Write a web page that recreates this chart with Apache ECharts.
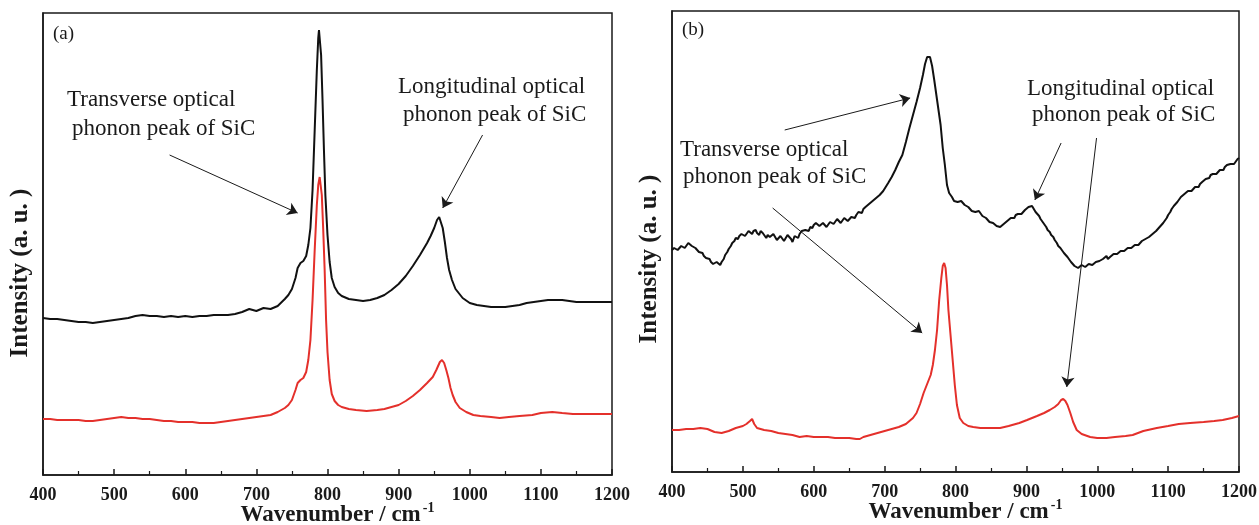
<!DOCTYPE html>
<html>
<head>
<meta charset="utf-8">
<title>Raman SiC</title>
<script src="https://cdn.jsdelivr.net/npm/echarts@6/dist/echarts.min.js"></script>
<style>
  html, body { margin: 0; padding: 0; background: #fff; }
  #main { width: 1259px; height: 525px; }
</style>
</head>
<body>
<div id="main"></div>
<script>
// wavenumber ticks
var xTicks = [400, 500, 600, 700, 800, 900, 1000, 1100, 1200];

// panel (a) spectra  [wavenumber, intensity a.u.]
var aBlack = [
  [400,157],[410,156],[420,156],[430,155],[440,154],[450,153],[460,153],[470,152],[480,153],[490,154],
  [500,155],[510,156],[520,157],[530,159],[540,160],[550,159],[560,159],[570,158],[580,159],[590,158],
  [600,159],[610,158],[620,159],[630,159],[640,160],[650,160],[660,160],[670,161],[680,163],[690,166],
  [700,164],[710,167],[720,166],[730,169],[740,176],[745,180],[750,186],[755,197],[758,207],[762,212],
  [766,214],[770,219],[773,230],[776,247],[779,285],[782,345],[785,405],[787,437],[788,445],[789,443],
  [791,420],[793,375],[795,325],[797,280],[800,240],[803,213],[806,197],[810,188],[815,182],[820,179],
  [830,176],[840,175],[850,174],[860,175],[870,177],[880,180],[890,185],[900,191],[910,199],[920,209],
  [930,220],[940,232],[945,239],[950,247],[954,255],[957,258],[959,256],[962,247],[965,233],[968,217],
  [971,205],[975,195],[980,186],[990,177],[1000,172],[1010,170],[1020,169],[1030,168],[1040,168],[1050,168],
  [1060,169],[1070,170],[1080,172],[1090,173],[1100,174],[1110,175],[1120,175],[1130,175],[1140,174],[1150,173],
  [1160,173],[1170,173],[1180,173],[1190,173],[1200,173]
];
var aRed = [
  [400,56],[410,56],[420,55],[430,55],[440,55],[450,55],[460,54],[470,54],[480,55],[490,56],
  [500,57],[510,58],[520,57],[530,57],[540,56],[550,56],[560,55],[570,54],[580,54],[590,53],
  [600,53],[610,53],[620,52],[630,52],[640,52],[650,53],[660,54],[670,55],[680,56],[690,57],
  [700,58],[710,59],[720,60],[730,63],[740,67],[745,70],[750,75],[755,85],[758,92],[762,95],
  [766,97],[770,103],[773,115],[776,135],[779,175],[782,225],[785,270],[787,290],[789,298],[790,297],
  [792,280],[794,245],[796,205],[798,155],[800,123],[803,95],[806,81],[810,74],[815,70],[820,68],
  [830,66],[840,65],[855,64],[870,65],[880,66],[890,68],[900,70],[910,74],[920,79],[930,85],
  [940,92],[948,98],[953,105],[958,113],[961,115],[964,112],[967,105],[970,97],[973,87],[976,80],
  [980,73],[986,67],[995,63],[1005,60],[1015,59],[1030,58],[1042,57],[1055,58],[1070,59],[1088,60],
  [1100,62],[1116,63],[1130,62],[1145,61],[1158,61],[1170,61],[1185,61],[1200,61]
];

// panel (b) spectra
var bBlack = [
  [400,222],[403,224],[405,225],[408,222],[410,223],[413,226],[415,227],[418,224],[420,226],[423,229],
  [425,228],[428,226],[430,225],[433,224],[435,222],[438,220],[440,218],[443,219],[445,216],[448,214],
  [450,212],[453,213],[455,210],[458,208],[460,206],[463,210],[465,209],[468,207],[470,210],[473,213],
  [475,217],[478,220],[480,223],[483,226],[485,229],[488,231],[490,234],[493,233],[495,236],[498,238],
  [500,239],[503,236],[505,237],[508,241],[510,240],[513,238],[515,241],[518,242],[520,239],[523,237],
  [525,241],[528,239],[530,238],[533,234],[535,237],[538,235],[540,235],[543,238],[545,236],[548,232],
  [550,233],[553,236],[555,235],[558,231],[560,232],[563,237],[565,236],[568,233],[570,230],[573,236],
  [575,235],[578,234],[580,238],[583,241],[585,240],[588,242],[590,243],[593,241],[595,245],[598,244],
  [600,247],[603,249],[605,250],[608,246],[610,246],[613,249],[615,248],[618,245],[620,247],[623,250],
  [625,251],[628,248],[630,249],[633,253],[635,252],[638,249],[640,250],[643,254],[645,253],[648,251],
  [650,252],[653,255],[655,256],[658,254],[660,257],[663,260],[665,261],[668,259],[670,263],[673,265],
  [675,266],[678,268],[680,269],[683,271],[685,272],[688,274],[690,275],[693,277],[695,279],[698,281],
  [700,283],[705,289],[710,295],[715,302],[720,310],[725,317],[730,330],[735,344],[740,357],[745,370],
  [750,384],[754,397],[757,408],[760,415],[762,417],[764,415],[767,406],[770,392],[773,377],[776,362],
  [779,347],[782,324],[785,307],[788,287],[791,279],[795,275],[798,271],[800,272],[803,270],[805,268],
  [808,271],[810,270],[813,267],[815,266],[818,265],[820,264],[823,261],[825,262],[828,260],[830,259],
  [833,261],[835,260],[838,256],[840,255],[843,254],[845,253],[848,250],[850,250],[853,249],[855,248],
  [858,246],[860,246],[863,245],[865,247],[868,248],[870,250],[873,251],[875,252],[878,254],[880,255],
  [883,254],[885,257],[888,258],[890,259],[893,258],[895,260],[898,262],[900,263],[903,265],[905,267],
  [908,266],[910,264],[913,260],[915,258],[918,256],[920,253],[923,250],[925,249],[928,245],[930,242],
  [933,240],[935,237],[938,235],[940,232],[943,229],[945,226],[948,224],[950,222],[953,219],[955,217],
  [958,215],[960,213],[963,210],[965,209],[968,206],[970,205],[973,204],[975,204],[978,207],[980,206],
  [983,205],[985,207],[988,208],[990,206],[993,207],[995,208],[998,210],[1000,209],[1003,211],[1005,212],
  [1008,213],[1010,214],[1013,216],[1015,213],[1018,215],[1020,217],[1023,218],[1025,219],[1028,218],[1030,220],
  [1033,221],[1035,222],[1038,221],[1040,223],[1043,224],[1045,225],[1048,224],[1050,226],[1053,227],[1055,228],
  [1058,227],[1060,229],[1063,231],[1065,232],[1068,233],[1070,234],[1073,235],[1075,236],[1078,238],[1080,239],
  [1083,241],[1085,243],[1088,245],[1090,247],[1093,249],[1095,251],[1098,254],[1100,257],[1103,260],[1105,263],
  [1108,266],[1110,268],[1113,270],[1115,272],[1118,275],[1120,277],[1123,278],[1125,279],[1128,281],[1130,282],
  [1133,281],[1135,283],[1138,285],[1140,286],[1143,285],[1145,288],[1148,290],[1150,292],[1153,293],[1155,295],
  [1158,294],[1160,297],[1163,298],[1165,299],[1168,298],[1170,300],[1173,302],[1175,303],[1178,302],[1180,305],
  [1183,307],[1185,306],[1188,308],[1190,309],[1193,308],[1195,310],[1198,313],[1200,314]
];
var bRed = [
  [400,42],[410,42],[420,43],[430,43],[440,44],[450,43],[460,40],[470,39],[480,41],[490,44],
  [500,46],[505,48],[510,51],[513,53],[516,48],[520,44],[530,42],[540,41],[550,39],[560,38],
  [570,37],[580,35],[590,36],[600,35],[610,35],[620,35],[630,34],[640,34],[650,34],[660,33],
  [665,33],[670,35],[680,37],[690,39],[700,41],[710,43],[720,45],[730,48],[740,54],[745,59],
  [750,68],[755,79],[760,88],[765,97],[768,107],[771,122],[774,142],[777,172],[780,194],[782,206],
  [784,209],[786,204],[788,187],[790,162],[793,137],[796,112],[799,87],[802,67],[806,54],[811,49],
  [818,46],[825,45],[835,44],[845,44],[855,44],[863,44],[875,46],[890,49],[901,52],[915,56],
  [925,59],[933,62],[940,65],[945,68],[949,72],[952,73],[955,71],[958,67],[962,59],[966,50],
  [971,42],[978,38],[990,35],[1000,34],[1013,34],[1025,35],[1040,36],[1050,37],[1065,41],[1084,44],
  [1100,46],[1115,48],[1131,49],[1150,50],[1165,51],[1177,52],[1190,54],[1200,56]
];

// annotation arrows, in data coords [from, to]
var aArrows = [
  [[578, 320], [758, 262]],
  [[1018, 340], [962, 267]]
];
var bArrows = [
  [[559, 342], [736, 374]],
  [[542, 264], [753, 139]],
  [[949, 329], [912, 272]],
  [[999, 334], [957, 85]]
];

var serif = "'Liberation Serif', 'Times New Roman', serif";
var ink = '#1a1a1a';

function xAxisOf(gridIndex) {
  return {
    gridIndex: gridIndex,
    type: 'value',
    min: xTicks[0],
    max: xTicks[xTicks.length - 1],
    interval: 100,
    name: '{t|Wavenumber / cm}{s|-1}',
    nameLocation: 'middle',
    nameGap: 26,
    nameMoveOverlap: false,
    nameTextStyle: {
      padding: [0, 0, 0, 20],
      rich: {
        t: { fontFamily: serif, fontSize: 23, fontWeight: 'bold', color: ink },
        s: { fontFamily: serif, fontSize: 14, fontWeight: 'bold', color: ink, padding: [0, 0, 14, 2] }
      }
    },
    axisLine: { lineStyle: { color: ink, width: 1.5 } },
    axisTick: { inside: true, length: 6, lineStyle: { color: ink, width: 1.5 } },
    minorTick: { show: true, splitNumber: 2, length: 4, lineStyle: { color: ink, width: 1.2 } },
    splitLine: { show: false },
    axisLabel: {
      margin: 11, fontFamily: serif, fontSize: 18, fontWeight: 'bold', color: ink,
      formatter: function (v) { return String(v); }
    }
  };
}

function yAxisOf(gridIndex, max, shift) {
  return {
    gridIndex: gridIndex,
    type: 'value',
    min: 0,
    max: max,
    name: 'Intensity (a. u. )',
    nameLocation: 'middle',
    nameRotate: 90,
    nameGap: 10,
    nameMoveOverlap: false,
    nameTextStyle: { fontFamily: serif, fontSize: 25, fontWeight: 'bold', color: ink, padding: [0, shift, 0, 0] },
    axisLine: { show: true, lineStyle: { color: ink, width: 1.5 } },
    axisTick: { show: false },
    axisLabel: { show: false },
    splitLine: { show: false }
  };
}

function arrowLines(list) {
  return {
    silent: true,
    symbol: ['none', 'arrow'],
    symbolSize: 10,
    lineStyle: { color: ink, width: 1, type: 'solid' },
    label: { show: false },
    emphasis: { disabled: true },
    data: list.map(function (a) {
      return [{ coord: a[0] }, { coord: a[1] }];
    })
  };
}

function spectrum(data, color, xi, marks) {
  var s = {
    type: 'line',
    xAxisIndex: xi,
    yAxisIndex: xi,
    data: data,
    showSymbol: false,
    smooth: false,
    lineStyle: { color: color, width: 2 },
    itemStyle: { color: color }
  };
  if (marks) {
    s.markLine = marks;
  }
  return s;
}

function note(x, y, str, size) {
  return {
    type: 'text',
    left: x,
    top: y,
    silent: true,
    style: { text: str, font: (size || 23) + 'px ' + serif, fill: ink }
  };
}

var myChart = echarts.init(document.getElementById('main'));
var option = {
  animation: false,
  backgroundColor: '#fff',
  grid: [
    { left: 43, top: 13, width: 569, height: 462, outerBoundsMode: 'none',
      show: true, borderColor: ink, borderWidth: 1.5 },
    { left: 672, top: 11, width: 567, height: 461, outerBoundsMode: 'none',
      show: true, borderColor: ink, borderWidth: 1.5 }
  ],
  xAxis: [xAxisOf(0), xAxisOf(1)],
  yAxis: [yAxisOf(0, 462, 58), yAxisOf(1, 461, 35)],
  series: [
    spectrum(aBlack, '#111111', 0, null),
    spectrum(aRed, '#e4302b', 0, arrowLines(aArrows)),
    spectrum(bBlack, '#111111', 1, null),
    spectrum(bRed, '#e4302b', 1, arrowLines(bArrows))
  ],
  graphic: [
    note(53, 25, '(a)', 19),
    note(67, 88, 'Transverse optical'),
    note(72, 117, 'phonon peak of SiC'),
    note(398, 75, 'Longitudinal optical'),
    note(403, 103, 'phonon peak of SiC'),
    note(682, 21, '(b)', 19),
    note(680, 138, 'Transverse optical'),
    note(683, 165, 'phonon peak of SiC'),
    note(1027, 77, 'Longitudinal optical'),
    note(1032, 103, 'phonon peak of SiC')
  ]
};
myChart.setOption(option);
</script>
</body>
</html>
